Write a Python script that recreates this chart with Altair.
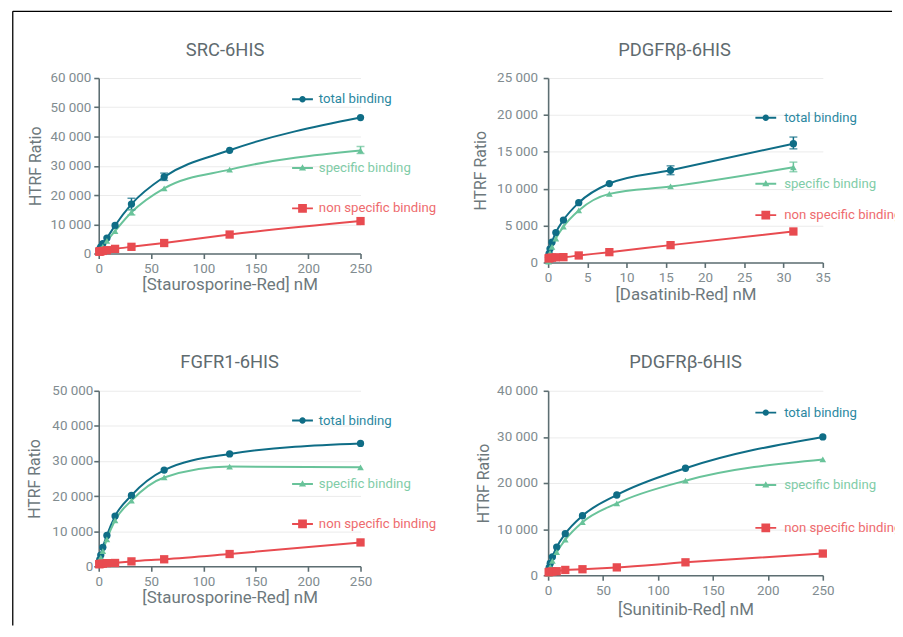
import altair as alt
import pandas as pd

FONT = "Roboto"
TEAL, GREEN, RED = "#0f6d86", "#69c39a", "#e84b50"
TEAL_TXT, GREEN_TXT, RED_TXT = "#2b879f", "#7fcca7", "#ee6b6e"
AXIS_COL = "#5d6e72"
LABEL_COL = "#818c90"
TITLE_COL = "#6d787c"
HEAD_COL = "#5f6b6f"

SERIES = ["total binding", "specific binding", "non specific binding"]

# ---------------- data ----------------
# Panel A: SRC-6HIS, Staurosporine-Red
a_conc = [0.49, 0.98, 1.95, 3.9, 7.8, 15.6, 31.25, 62.5, 125, 250]
a_total = [1200, 1600, 2300, 3400, 5300, 9600, 16900, 26200, 35300, 46500]
a_spec = [500, 900, 1500, 2400, 4300, 7700, 14100, 22300, 28700, 35200]
a_ns = [650, 700, 800, 900, 1150, 1600, 2300, 3600, 6500, 11100]
a_err_series = ["total binding", "total binding", "specific binding", "specific binding"]
a_err_conc = [31.25, 62.5, 31.25, 250]
a_err_lo = [15000, 25000, 13200, 34200]
a_err_hi = [18900, 27500, 15000, 36600]

# Panel B: PDGFRb-6HIS, Dasatinib-Red
b_conc = [0.06, 0.12, 0.24, 0.49, 0.98, 1.95, 3.9, 7.8, 15.6, 31.25]
b_total = [700, 1200, 1850, 2750, 4050, 5750, 8100, 10700, 12500, 16100]
b_spec = [100, 600, 1300, 2100, 3250, 4850, 7050, 9300, 10300, 12900]
b_ns = [550, 600, 620, 650, 700, 720, 950, 1400, 2350, 4200]
b_err_series = ["total binding", "total binding", "specific binding"]
b_err_conc = [15.6, 31.25, 31.25]
b_err_lo = [11900, 15400, 12300]
b_err_hi = [13100, 17000, 13600]

# Panel C: FGFR1-6HIS, Staurosporine-Red
c_conc = [0.49, 0.98, 1.95, 3.9, 7.8, 15.6, 31.25, 62.5, 125, 250]
c_total = [1200, 1900, 3200, 5400, 8800, 14300, 20200, 27400, 32000, 35000]
c_spec = [500, 1200, 2500, 4300, 7700, 13100, 18700, 25300, 28400, 28200]
c_ns = [600, 650, 700, 750, 900, 950, 1400, 2000, 3500, 6800]

# Panel D: PDGFRb-6HIS, Sunitinib-Red
d_conc = [0.49, 0.98, 1.95, 3.9, 7.8, 15.6, 31.25, 62.5, 125, 250]
d_total = [1100, 1700, 2600, 4000, 6100, 9000, 12900, 17400, 23200, 30000]
d_spec = [300, 900, 1800, 3100, 5000, 7700, 11500, 15600, 20500, 25100]
d_ns = [650, 700, 750, 800, 870, 1150, 1300, 1700, 2800, 4700]

# legend glyphs: line segment + marker (custom symbol paths in [-1, 1])
LINE = "M-1,-0.09H1V0.09H-1Z"
SYM_CIRCLE = LINE + " M0.31,0A0.31,0.31,0,1,1,-0.31,0A0.31,0.31,0,1,1,0.31,0Z"
SYM_TRI = LINE + " M0,-0.36L0.34,0.24L-0.34,0.24Z"
SYM_SQ = LINE + " M-0.42,-0.42H0.42V0.42H-0.42Z"

STYLES = {
    "total binding": dict(col=TEAL, txt=TEAL_TXT, shape="circle", size=54, sym=SYM_CIRCLE),
    "specific binding": dict(col=GREEN, txt=GREEN_TXT, shape="triangle-up", size=45, sym=SYM_TRI),
    "non specific binding": dict(col=RED, txt=RED_TXT, shape="square", size=70, sym=SYM_SQ),
}

YLAB = "replace(format(datum.value, ','), ',', ' ')"


def make_panel(title, xtitle, conc, total, spec, ns, xmax, xstep, ymax, ystep,
               w, h, legx, legys, laboff, title_dx, title_dy, title_off,
               ylabpad, ytitlepad, xtitlepad, err=None, frame=False):
    n = len(conc)
    df = pd.DataFrame({
        "conc": conc * 3,
        "ratio": total + spec + ns,
        "series": [SERIES[0]] * n + [SERIES[1]] * n + [SERIES[2]] * n,
    })
    xax = alt.Axis(values=list(range(0, xmax + 1, xstep)), title=xtitle,
                   labelFlush=False, titlePadding=xtitlepad)
    yax = alt.Axis(values=list(range(0, ymax + 1, ystep)), title="HTRF Ratio",
                   labelExpr=YLAB, labelFlush=False, labelPadding=ylabpad,
                   titlePadding=ytitlepad)
    xsc = alt.Scale(domain=[0, xmax], nice=False)
    ysc = alt.Scale(domain=[0, ymax], nice=False)
    xenc = alt.X("conc:Q", scale=xsc, axis=xax)
    yenc = alt.Y("ratio:Q", scale=ysc, axis=yax)

    layers = []
    if frame:
        fdf = pd.DataFrame({"k": [0]})
        layers.append(alt.Chart(fdf).mark_rule(color="black", strokeWidth=1.3).encode(
            x=alt.value(-86.7), y=alt.value(-67.3), y2=alt.value(552)))
        layers.append(alt.Chart(fdf).mark_rule(color="black", strokeWidth=1.3).encode(
            x=alt.value(-86.7), x2=alt.value(800), y=alt.value(-67.3)))

    base = alt.Chart(df)
    for s in SERIES:
        st = STYLES[s]
        sub = base.transform_filter(alt.datum.series == s)
        layers.append(sub.mark_line(color=st["col"], strokeWidth=2,
                                    interpolate="monotone").encode(x=xenc, y=yenc))
    if err is not None:
        edf = pd.DataFrame({"series": err[0], "conc": err[1], "lo": err[2], "hi": err[3]})
        for s in SERIES:
            part = edf[edf["series"] == s]
            if len(part):
                layers.append(alt.Chart(part).mark_errorbar(
                    ticks=True, size=8, thickness=1.5, color=STYLES[s]["col"]).encode(
                    x=xenc, y=alt.Y("lo:Q", scale=ysc, axis=yax), y2=alt.Y2("hi:Q")))
    for s, ly in zip(SERIES, legys):
        st = STYLES[s]
        sub = base.transform_filter(alt.datum.series == s)
        leg = alt.Legend(orient="none", legendX=legx, legendY=ly - 10.5, title=None,
                         symbolType=st["sym"], symbolSize=441, symbolStrokeWidth=0,
                         labelFont=FONT, labelFontSize=13.3, labelColor=st["txt"],
                         labelOffset=laboff, padding=0)
        layers.append(sub.mark_point(filled=True, shape=st["shape"], size=st["size"],
                                     opacity=1).encode(
            x=xenc, y=yenc,
            color=alt.Color("series:N", scale=alt.Scale(domain=[s], range=[st["col"]]),
                            legend=leg)))

    return alt.layer(*layers).properties(
        width=w, height=h,
        title=alt.TitleParams(title, font=FONT, fontSize=18.5, fontWeight="normal",
                              color=HEAD_COL, anchor="middle", frame="group",
                              dx=title_dx, dy=title_dy, offset=title_off),
    ).resolve_scale(color="independent")


pA = make_panel("SRC-6HIS", "[Staurosporine-Red] nM", a_conc, a_total, a_spec, a_ns,
                250, 50, 60000, 10000, 264, 177, 195, [21.4, 90.7, 131.4], 6,
                -4.6, 59.7, 10, 3, 6.5, 2,
                err=(a_err_series, a_err_conc, a_err_lo, a_err_hi), frame=True)
pB = make_panel("PDGFR\u03b2-6HIS", "[Dasatinib-Red] nM", b_conc, b_total, b_spec, b_ns,
                35, 5, 25000, 5000, 277, 186, 209, [40, 106.6, 138.3], 8,
                -11, 0, 12, 5.7, 8, 3,
                err=(b_err_series, b_err_conc, b_err_lo, b_err_hi))
pC = make_panel("FGFR1-6HIS", "[Staurosporine-Red] nM", c_conc, c_total, c_spec, c_ns,
                250, 50, 50000, 10000, 264, 177, 195, [30, 94, 134.3], 6,
                0, 0, 12, 1, 9.5, 2)
pD = make_panel("PDGFR\u03b2-6HIS", "[Sunitinib-Red] nM", d_conc, d_total, d_spec, d_ns,
                250, 50, 40000, 10000, 277, 186, 209, [22, 95, 138.3], 8,
                0, 0, 12, 5.7, 5.5, 5.5)

chart = alt.concat(pA, pB, pC, pD, columns=2, spacing={"row": 129.4, "column": 189.2},
                   bounds="flush").resolve_scale(color="independent").properties(
    padding={"left": 3.5, "top": 0, "right": -8, "bottom": 0},
    background="white",
).configure_view(stroke=None).configure_axis(
    domainColor=AXIS_COL, domainWidth=1.6, tickColor=AXIS_COL, tickWidth=1.6, tickSize=5,
    labelFont=FONT, labelFontSize=13.5, labelColor=LABEL_COL, labelPadding=3,
    titleFont=FONT, titleFontSize=16, titleFontWeight="normal", titleColor=TITLE_COL,
).configure_axisX(grid=False, titleFontSize=17).configure_axisY(
    grid=True, gridColor="#ebebeb", gridWidth=1)

chart.save("out.html", embed_options={"renderer": "svg", "actions": False})
